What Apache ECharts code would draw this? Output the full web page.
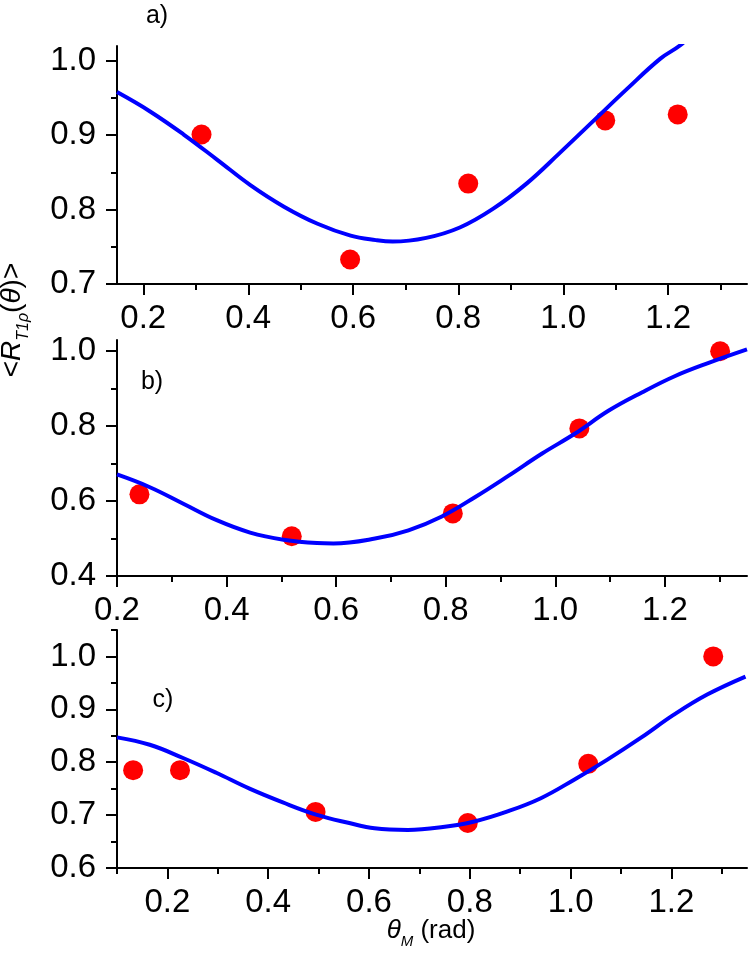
<!DOCTYPE html>
<html>
<head>
<meta charset="utf-8">
<script src="https://cdn.jsdelivr.net/npm/echarts@6/dist/echarts.min.js"></script>
<style>
html, body { margin: 0; padding: 0; background: #fff; }
#main { width: 750px; height: 975px; }
</style>
</head>
<body>
<div id="main"></div>
<script>
// panel a) measured points + fitted curve
var dotsAx = [0.311, 0.594, 0.819, 1.080, 1.218];
var dotsAy = [0.901, 0.733, 0.835, 0.920, 0.928];
var fitAx = [0.15, 0.213, 0.277, 0.341, 0.404, 0.468, 0.532, 0.595, 0.643, 0.675, 0.739, 0.803, 0.866, 0.930, 0.993, 1.057, 1.121, 1.185, 1.223, 1.245];
var fitAy = [0.958, 0.932, 0.901, 0.867, 0.833, 0.804, 0.781, 0.765, 0.759, 0.757, 0.762, 0.776, 0.801, 0.835, 0.876, 0.919, 0.962, 1.003, 1.021, 1.036];

// panel b)
var dotsBx = [0.241, 0.519, 0.813, 1.044, 1.301];
var dotsBy = [0.618, 0.506, 0.567, 0.794, 1.000];
var fitBx = [0.2, 0.260, 0.321, 0.382, 0.443, 0.504, 0.565, 0.595, 0.671, 0.732, 0.793, 0.854, 0.915, 0.976, 1.037, 1.097, 1.158, 1.219, 1.280, 1.350];
var fitBy = [0.671, 0.637, 0.593, 0.549, 0.516, 0.497, 0.488, 0.487, 0.500, 0.522, 0.559, 0.611, 0.668, 0.727, 0.781, 0.841, 0.890, 0.934, 0.969, 1.005];

// panel c)
var dotsCx = [0.132, 0.225, 0.494, 0.796, 1.035, 1.283];
var dotsCy = [0.785, 0.785, 0.706, 0.685, 0.797, 1.000];
var fitCx = [0.1, 0.165, 0.231, 0.297, 0.363, 0.429, 0.495, 0.561, 0.611, 0.677, 0.743, 0.809, 0.875, 0.941, 1.007, 1.073, 1.139, 1.205, 1.271, 1.347];
var fitCy = [0.847, 0.833, 0.808, 0.780, 0.750, 0.724, 0.701, 0.685, 0.675, 0.672, 0.677, 0.688, 0.707, 0.732, 0.767, 0.805, 0.846, 0.890, 0.928, 0.962];

// ticks
var xMajor = [0.2, 0.4, 0.6, 0.8, 1.0, 1.2];
var xMinorA = [0.3, 0.5, 0.7, 0.9, 1.1, 1.3];
var xMinorC = [0.1, 0.3, 0.5, 0.7, 0.9, 1.1, 1.3];
var yMajorA = [0.7, 0.8, 0.9, 1.0];
var yMinorA = [0.75, 0.85, 0.95];
var yMajorB = [0.4, 0.6, 0.8, 1.0];
var yMinorB = [0.5, 0.7, 0.9];
var yMajorC = [0.6, 0.7, 0.8, 0.9, 1.0];
var yMinorC = [0.65, 0.75, 0.85, 0.95, 1.05];

var FONT = '"Liberation Sans", Arial, sans-serif';

function zip(xs, ys) {
    var out = [];
    for (var i = 0; i < xs.length; i++) out.push([xs[i], ys[i]]);
    return out;
}

function majorAxis(grid, min, max, ticks, isX) {
    return {
        type: 'value', gridIndex: grid, min: min, max: max,
        position: isX ? 'bottom' : 'left',
        splitLine: { show: false },
        axisLine: { show: true, onZero: false, lineStyle: { color: '#000', width: 2 } },
        axisTick: { show: true, length: 11, customValues: ticks, lineStyle: { color: '#000', width: 2 } },
        axisLabel: {
            show: true, customValues: ticks, color: '#000', fontFamily: FONT, fontSize: 33,
            margin: isX ? 18 : 21,
            formatter: function (v) { return v.toFixed(1); }
        }
    };
}

function minorAxis(grid, min, max, ticks, isX) {
    return {
        type: 'value', gridIndex: grid, min: min, max: max,
        position: isX ? 'bottom' : 'left',
        splitLine: { show: false },
        axisLine: { show: false, onZero: false },
        axisTick: { show: true, length: 6, customValues: ticks, lineStyle: { color: '#000', width: 2 } },
        axisLabel: { show: false }
    };
}

// row of text pieces (for sub/italic titles), centred on (cx, cy)
var measureCtx = document.createElement('canvas').getContext('2d');
function textRow(parts, cx, cy, rot) {
    var children = [];
    var total = 0;
    var widths = parts.map(function (p) {
        measureCtx.font = (p.italic ? 'italic ' : '') + p.size + 'px ' + FONT;
        var w = measureCtx.measureText(p.text).width;
        total += w;
        return w;
    });
    var x = -total / 2;
    parts.forEach(function (p, i) {
        children.push({
            type: 'text', x: x, y: p.dy || 0,
            style: {
                text: p.text, fontFamily: FONT, fontSize: p.size,
                fontStyle: p.italic ? 'italic' : 'normal', fill: '#000',
                align: 'left', verticalAlign: 'middle'
            }
        });
        x += widths[i];
    });
    return { type: 'group', x: cx, y: cy, rotation: rot || 0, children: children };
}

var myChart = echarts.init(document.getElementById('main'));

var dotStyle = { color: '#ff0000', opacity: 1 };
var lineStyle = { color: '#0000ff', width: 4 };

var option = {
    animation: false,
    backgroundColor: '#fff',
    grid: [
        { left: 117, right: 3, top: 46, height: 238, outerBoundsMode: 'none' },
        { left: 117, right: 3, top: 340, height: 236, outerBoundsMode: 'none' },
        { left: 117, right: 3, top: 630, height: 238, outerBoundsMode: 'none' }
    ],
    xAxis: [
        majorAxis(0, 0.15, 1.35, xMajor, true),
        majorAxis(1, 0.2, 1.35, xMajor, true),
        majorAxis(2, 0.1, 1.35, xMajor, true),
        minorAxis(0, 0.15, 1.35, xMinorA, true),
        minorAxis(1, 0.2, 1.35, xMinorA, true),
        minorAxis(2, 0.1, 1.35, xMinorC, true)
    ],
    yAxis: [
        majorAxis(0, 0.7, 1.02, yMajorA, false),
        majorAxis(1, 0.4, 1.03, yMajorB, false),
        majorAxis(2, 0.6, 1.05, yMajorC, false),
        minorAxis(0, 0.7, 1.02, yMinorA, false),
        minorAxis(1, 0.4, 1.03, yMinorB, false),
        minorAxis(2, 0.6, 1.05, yMinorC, false)
    ],
    series: [
        { type: 'scatter', xAxisIndex: 0, yAxisIndex: 0, symbolSize: 20, itemStyle: dotStyle, data: zip(dotsAx, dotsAy) },
        { type: 'line', xAxisIndex: 0, yAxisIndex: 0, showSymbol: false, smooth: 0.4, clip: true, lineStyle: lineStyle, data: zip(fitAx, fitAy) },
        { type: 'scatter', xAxisIndex: 1, yAxisIndex: 1, symbolSize: 20, itemStyle: dotStyle, data: zip(dotsBx, dotsBy) },
        { type: 'line', xAxisIndex: 1, yAxisIndex: 1, showSymbol: false, smooth: 0.4, clip: true, lineStyle: lineStyle, data: zip(fitBx, fitBy) },
        { type: 'scatter', xAxisIndex: 2, yAxisIndex: 2, symbolSize: 20, itemStyle: dotStyle, data: zip(dotsCx, dotsCy) },
        { type: 'line', xAxisIndex: 2, yAxisIndex: 2, showSymbol: false, smooth: 0.4, clip: true, lineStyle: lineStyle, data: zip(fitCx, fitCy) }
    ],
    graphic: [
        { type: 'text', x: 157, y: 16, style: { text: 'a)', fontFamily: FONT, fontSize: 25, fill: '#000', align: 'center', verticalAlign: 'middle' } },
        { type: 'text', x: 152, y: 382, style: { text: 'b)', fontFamily: FONT, fontSize: 25, fill: '#000', align: 'center', verticalAlign: 'middle' } },
        { type: 'text', x: 163, y: 700, style: { text: 'c)', fontFamily: FONT, fontSize: 25, fill: '#000', align: 'center', verticalAlign: 'middle' } },
        // y axis title
        textRow([
            { text: '<', size: 28 },
            { text: 'R', size: 28, italic: true },
            { text: 'T1ρ', size: 16, italic: true, dy: 12 },
            { text: '(', size: 28 },
            { text: 'θ', size: 28, italic: true },
            { text: ')>', size: 28 }
        ], 12, 320, Math.PI / 2),
        // x axis title
        textRow([
            { text: 'θ', size: 26, italic: true },
            { text: 'M', size: 15, italic: true, dy: 11 },
            { text: ' (rad)', size: 26 }
        ], 431, 931, 0)
    ]
};

myChart.setOption(option);
</script>
</body>
</html>
